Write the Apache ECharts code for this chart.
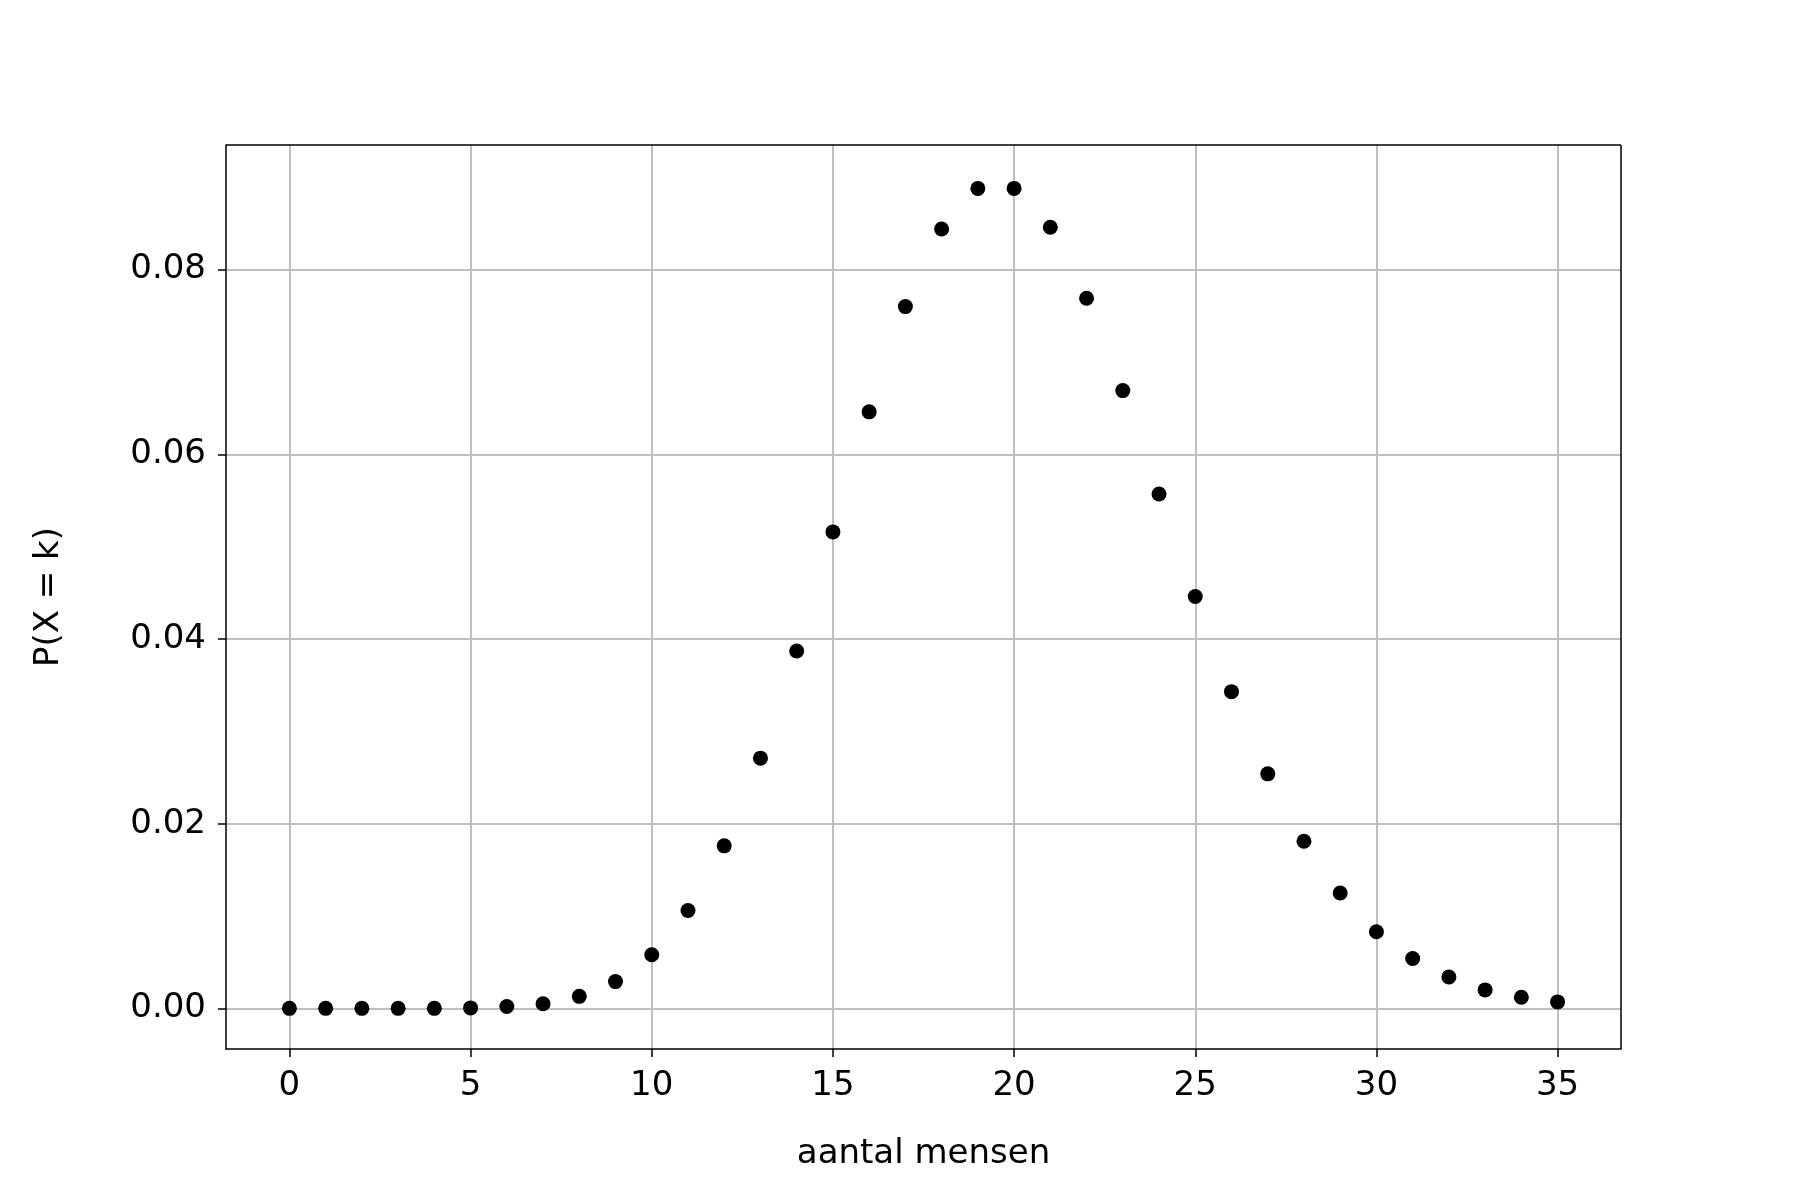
<!DOCTYPE html>
<html><head><meta charset="utf-8">
<script src="https://cdn.jsdelivr.net/npm/echarts@6/dist/echarts.min.js"></script>
<style>html,body{margin:0;padding:0;background:#fff}#c{width:1801px;height:1200px}</style>
</head><body><div id="c"></div>
<script>
const kValues = [0,1,2,3,4,5,6,7,8,9,10,11,12,13,14,15,16,17,18,19,20,21,22,23,24,25,26,27,28,29,30,31,32,33,34,35];
const probabilities = [0.0000,0.0000,0.0000,0.0000,0.0000,0.00005,0.0002,0.0005,0.0013,0.0029,0.0058,0.0106,0.0176,0.0271,0.0387,0.0516,0.0646,0.0760,0.0844,0.0888,0.0888,0.0846,0.0769,0.0669,0.0557,0.0446,0.0343,0.0254,0.0181,0.0125,0.0083,0.0054,0.0034,0.0020,0.0012,0.0007];
const xTicks = [0,5,10,15,20,25,30,35];
const yTicks = [0,0.02,0.04,0.06,0.08];
const F = 'DejaVu Sans';
const chart = echarts.init(document.getElementById('c'));
chart.setOption({
  animation:false,
  grid:{left:226,right:180,top:145,bottom:151},
  xAxis:{type:'value',min:-1.75,max:36.75,
    name:'aantal mensen',nameLocation:'middle',nameGap:88,
    nameTextStyle:{fontFamily:F,fontSize:34,color:'#000'},
    axisLine:{onZero:false,lineStyle:{color:'#000',width:1.5}},
    axisTick:{show:true,customValues:xTicks,length:8,lineStyle:{color:'#000',width:1.5}},
    axisLabel:{customValues:xTicks,fontFamily:F,fontSize:34,color:'#000',margin:20},
    splitLine:{show:true,lineStyle:{color:'#bfbfbf',width:2}}},
  yAxis:{type:'value',min:-0.0044,max:0.0935,
    name:'P(X = k)',nameLocation:'middle',nameGap:160,
    nameTextStyle:{fontFamily:F,fontSize:34,color:'#000'},
    axisLine:{show:true,onZero:false,lineStyle:{color:'#000',width:1.5}},
    axisTick:{show:true,customValues:yTicks,length:8,lineStyle:{color:'#000',width:1.5}},
    axisLabel:{customValues:yTicks,fontFamily:F,fontSize:34,color:'#000',margin:20,formatter:v=>v.toFixed(2)},
    splitLine:{show:true,lineStyle:{color:'#bfbfbf',width:2}}},
  series:[
    {type:'scatter',symbolSize:15,itemStyle:{color:'#000',opacity:1},
     data:kValues.map((k,i)=>[k,probabilities[i]]),z:5},
    {type:'line',data:[],markLine:{silent:true,symbol:'none',label:{show:false},
      lineStyle:{color:'#000',width:1.5,type:'solid'},
      data:[[{coord:[-1.75,0.0935]},{coord:[36.75,0.0935]}],[{coord:[36.75,-0.0044]},{coord:[36.75,0.0935]}]]}}
  ]
});
</script></body></html>
